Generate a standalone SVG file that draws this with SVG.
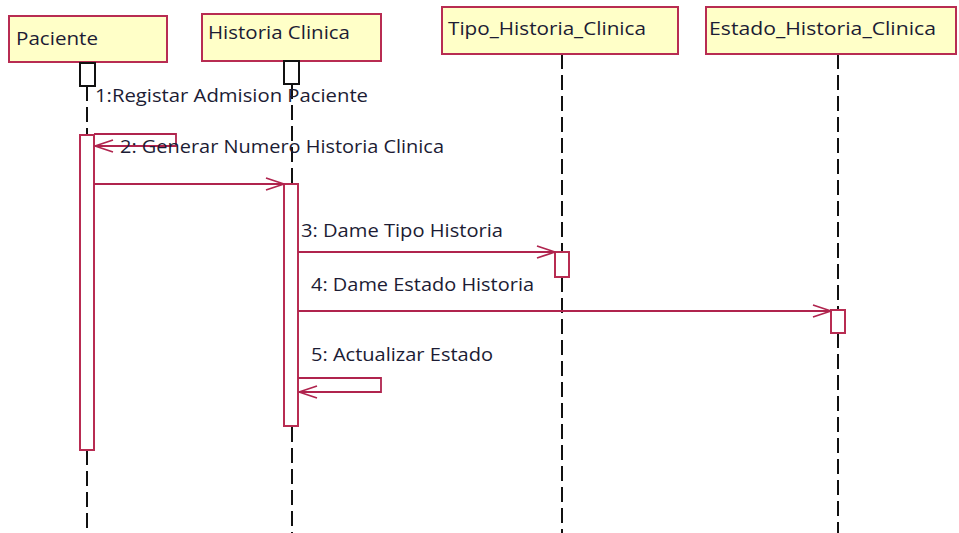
<svg xmlns="http://www.w3.org/2000/svg" width="959" height="533" viewBox="0 0 959 533">
<defs>
<style>
.box{fill:#ffffc8;stroke:#b82c52;stroke-width:2}
.lbl{font-family:"Open Sans","DejaVu Sans",sans-serif;font-size:17.5px;fill:#1c1c34}
.life{stroke:#111;stroke-width:2;stroke-dasharray:15 6;fill:none}
.start{fill:#fff;stroke:#111;stroke-width:2}
.act{fill:#fff;stroke:#b82c52;stroke-width:2}
.msg{fill:none;stroke:#b0244e;stroke-width:1.8}
</style>
<marker id="open" viewBox="0 0 20 14" refX="19" refY="7" markerWidth="20" markerHeight="14" markerUnits="userSpaceOnUse" orient="auto">
<path d="M1,1 L19,7 L1,13" fill="none" stroke="#b0244e" stroke-width="1.8"/>
</marker>
</defs>
<rect width="959" height="533" fill="#fff"/>
<g id="lifelines">
<line class="life" x1="87" y1="86" x2="87" y2="135"/>
<line class="life" x1="87" y1="450" x2="87" y2="533"/>
<line class="life" x1="292" y1="84" x2="292" y2="184"/>
<line class="life" x1="292" y1="427" x2="292" y2="533"/>
<line class="life" x1="562" y1="54" x2="562" y2="252"/>
<line class="life" x1="562" y1="277" x2="562" y2="533"/>
<line class="life" x1="838" y1="54" x2="838" y2="310"/>
<line class="life" x1="838" y1="333" x2="838" y2="533"/>
</g>
<g id="paciente">
<rect class="box" x="9" y="16" width="158" height="46"/>
<text class="lbl" x="16" y="45" textLength="82" lengthAdjust="spacingAndGlyphs">Paciente</text>
<rect class="start" x="80" y="63" width="15" height="23"/>
<rect class="act" x="80" y="135" width="14" height="315"/>
</g>
<g id="historia_clinica">
<rect class="box" x="202" y="14" width="179" height="47"/>
<text class="lbl" x="208" y="39" textLength="142" lengthAdjust="spacingAndGlyphs">Historia Clinica</text>
<rect class="start" x="284" y="61" width="15" height="23"/>
<rect class="act" x="284" y="184" width="14" height="242"/>
</g>
<g id="tipo_historia_clinica">
<rect class="box" x="442" y="7" width="236" height="47"/>
<text class="lbl" x="448" y="35" textLength="198" lengthAdjust="spacingAndGlyphs">Tipo_Historia_Clinica</text>
<rect class="act" x="555" y="252" width="14" height="25"/>
</g>
<g id="estado_historia_clinica">
<rect class="box" x="706" y="7" width="250" height="47"/>
<text class="lbl" x="709" y="35" textLength="227" lengthAdjust="spacingAndGlyphs">Estado_Historia_Clinica</text>
<rect class="act" x="831" y="310" width="14" height="23"/>
</g>
<g id="connectors">
<path class="msg" d="M94,184 H284" marker-end="url(#open)"/>
<path class="msg" d="M94,134 H176 V146 H95" marker-end="url(#open)"/>
<path class="msg" d="M298,252 H555" marker-end="url(#open)"/>
<path class="msg" d="M298,311 H831" marker-end="url(#open)"/>
<path class="msg" d="M298,378 H381 V392 H299" marker-end="url(#open)"/>
<text class="lbl" x="95" y="102" textLength="273" lengthAdjust="spacingAndGlyphs">1:Registar Admision Paciente</text>
<text class="lbl" x="120" y="153" textLength="324" lengthAdjust="spacingAndGlyphs">2: Generar Numero Historia Clinica</text>
<text class="lbl" x="301" y="237" textLength="202" lengthAdjust="spacingAndGlyphs">3: Dame Tipo Historia</text>
<text class="lbl" x="311" y="291" textLength="223" lengthAdjust="spacingAndGlyphs">4: Dame Estado Historia</text>
<text class="lbl" x="311" y="361" textLength="182" lengthAdjust="spacingAndGlyphs">5: Actualizar Estado</text>
</g>
</svg>
